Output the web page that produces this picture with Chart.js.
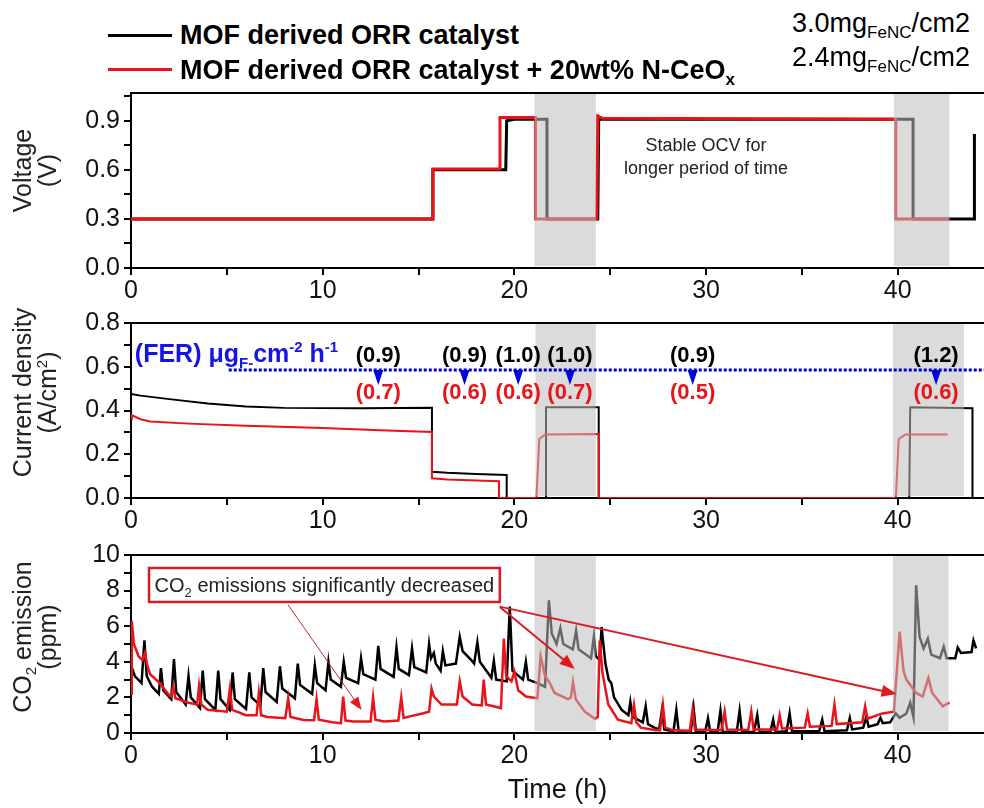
<!DOCTYPE html>
<html>
<head>
<meta charset="utf-8">
<script src="https://cdn.jsdelivr.net/npm/chart.js@4.4.1/dist/chart.umd.min.js"></script>
<style>
  body { margin: 0; width: 984px; height: 808px; background: #fff; position: relative; overflow: hidden;
         font-family: "Liberation Sans", Arial, sans-serif; }
  canvas { position: absolute; left: 0; }
  .leg-line { position: absolute; left: 108px; width: 64px; height: 3px; }
  .leg-text { position: absolute; left: 180px; font-size: 27px; font-weight: bold; line-height: 27px; white-space: nowrap; z-index: 2; }
  .load { position: absolute; left: 792px; font-size: 27px; line-height: 27px; white-space: nowrap; z-index: 2; }
  sub { font-size: 17px; vertical-align: -6px; line-height: 0; }
</style>
</head>
<body>

<!-- legend -->
<div class="leg-line" style="top:34px;background:#000"></div>
<div class="leg-text" style="top:22px">MOF derived ORR catalyst</div>
<div class="leg-line" style="top:68px;background:#e8141a"></div>
<div class="leg-text" style="top:57px">MOF derived ORR catalyst + 20wt% N-CeO<sub>x</sub></div>
<div class="load" style="top:10px">3.0mg<sub>FeNC</sub>/cm2</div>
<div class="load" style="top:44px">2.4mg<sub>FeNC</sub>/cm2</div>

<canvas id="voltage" width="984" height="230" style="top:73px"></canvas>
<canvas id="current" width="984" height="230" style="top:303px"></canvas>
<canvas id="co2" width="984" height="273" style="top:535px"></canvas>

<script>
const BLACK = "#000000";
const RED = "#e8141a";
const BLUE = "#1414e6";
const FONT = '"Liberation Sans", Arial, sans-serif';
const X_MAX = 44.5;

// --- Voltage (V) ---
const voltBlack = [[0,0.3],[15.75,0.3],[15.75,0.6],[19.55,0.6],[19.6,0.9],[20,0.91],[21.7,0.91],[21.7,0.3],[24.35,0.3],[24.4,0.91],[40.8,0.91],[40.8,0.3],[44.0,0.3],[44.0,0.82]];
const voltRed = [[0,0.3],[15.75,0.3],[15.75,0.605],[19.2,0.605],[19.25,0.92],[21.1,0.92],[21.1,0.3],[24.3,0.3],[24.35,0.93],[24.6,0.915],[39.9,0.91],[39.9,0.3],[42.7,0.3]];

// --- Current density (A/cm2) ---
const curBlack = [[0,0.476],[0.5,0.468],[2,0.452],[4,0.432],[6,0.418],[8,0.412],[12,0.41],[15.7,0.413],[15.7,0.12],[16.5,0.115],[18,0.11],[19.6,0.105],[19.6,0],[21.6,0],[21.65,0.415],[24.4,0.415],[24.4,0],[40.6,0],[40.65,0.415],[43.9,0.41],[43.9,0]];
const curRed = [[0,0.36],[0.05,0.378],[0.5,0.36],[1,0.35],[3,0.34],[6,0.33],[10,0.32],[13,0.31],[15.7,0.302],[15.7,0.09],[16.5,0.085],[19.2,0.077],[19.2,0],[21.15,0],[21.3,0.27],[21.6,0.29],[24.4,0.293],[24.4,0],[39.9,0],[40.05,0.27],[40.4,0.29],[42.6,0.29]];

// --- CO2 emission (ppm) ---
const co2Black = [[0,3.8],[0.2,3.2],[0.55,2.8],[0.7,5.2],[0.82,3.2],[1.1,2.6],[1.45,2.2],[1.56,3.65],[1.68,2.4],[2.1,1.9],[2.24,4.15],[2.36,2.3],[2.85,1.6],[3.0,3.2],[3.12,2.0],[3.6,1.4],[3.74,3.5],[3.86,1.9],[4.4,1.3],[4.55,3.5],[4.67,1.9],[5.15,1.3],[5.3,3.4],[5.42,1.9],[6.0,1.35],[6.17,3.4],[6.29,2.0],[6.75,1.55],[6.9,3.65],[7.02,2.3],[7.6,1.75],[7.77,3.75],[7.89,2.5],[8.55,1.95],[8.7,3.9],[8.82,2.7],[9.45,2.2],[9.59,3.8],[9.71,2.8],[10.15,2.4],[10.3,4.0],[10.42,3.0],[10.95,2.6],[11.1,4.0],[11.22,3.1],[11.85,2.8],[12.0,4.2],[12.12,3.3],[12.75,3.0],[12.9,4.9],[13.02,3.6],[13.7,3.15],[13.85,4.8],[13.97,3.6],[14.5,3.25],[14.66,4.75],[14.78,3.7],[15.4,3.4],[15.55,5.0],[15.65,4.2],[15.8,4.5],[15.9,3.9],[16.15,3.5],[16.27,4.6],[16.4,3.8],[16.95,3.9],[17.15,5.4],[17.3,4.6],[17.75,4.1],[17.9,3.9],[18.07,5.1],[18.2,4.0],[18.8,3.1],[18.93,4.05],[19.05,3.0],[19.6,2.9],[19.76,7.1],[19.9,3.5],[20.45,3.0],[20.6,4.0],[20.72,3.0],[21.2,2.8],[21.6,2.6],[21.8,7.45],[21.95,5.6],[22.2,5.0],[22.4,5.9],[22.55,5.0],[23.05,4.7],[23.22,5.75],[23.35,4.7],[24.0,4.2],[24.15,5.45],[24.25,4.3],[24.45,4.1],[24.55,5.95],[24.75,3.9],[24.92,3.0],[25.06,2.8],[25.2,2.0],[25.6,1.3],[25.95,1.0],[26.05,1.75],[26.17,0.9],[26.7,0.6],[26.85,1.5],[26.97,0.5],[27.3,0.3],[27.55,0.2],[27.7,1.3],[27.82,0.2],[28.3,0.1],[28.45,1.3],[28.57,0.1],[29.2,0.05],[29.35,1.4],[29.47,0.1],[29.95,0.05],[30.1,0.83],[30.22,0.05],[30.6,0.05],[30.75,1.25],[30.87,0.05],[31.6,0.05],[31.75,1.25],[31.87,0.05],[32.5,0.05],[32.67,1.0],[32.79,0.05],[33.35,0.05],[33.5,0.75],[33.62,0.05],[34.2,0.1],[34.36,1.1],[34.48,0.1],[35.9,0.1],[36.06,0.75],[36.18,0.1],[37.35,0.15],[37.5,0.85],[37.62,0.2],[38.2,0.3],[38.36,0.9],[38.48,0.35],[38.95,0.5],[39.1,0.85],[39.22,0.55],[39.6,0.6],[39.9,1.1],[40.1,0.85],[40.45,1.1],[40.65,1.7],[40.82,0.9],[40.96,8.3],[41.14,5.4],[41.35,4.75],[41.57,5.3],[41.75,4.4],[42.2,4.2],[42.4,4.85],[42.55,4.2],[43.0,4.2],[43.13,4.8],[43.3,4.5],[43.85,4.55],[43.95,5.2],[44.09,4.75]];
const co2Red = [[0,2.2],[0.04,6.3],[0.15,5.0],[0.4,4.3],[0.6,4.1],[0.73,4.5],[0.85,3.8],[1.0,3.3],[1.5,2.8],[2.0,2.1],[2.1,2.05],[2.2,2.6],[2.32,1.95],[3.0,1.7],[3.45,1.6],[3.55,2.65],[3.67,1.6],[4.0,1.3],[5.0,1.2],[5.16,2.5],[5.28,1.3],[6.0,1.0],[6.55,1.0],[6.67,2.25],[6.79,1.0],[7.1,0.9],[8.05,0.83],[8.2,1.95],[8.32,0.9],[9.0,0.73],[9.55,0.72],[9.68,1.9],[9.8,0.75],[10.5,0.6],[10.95,0.55],[11.07,2.05],[11.19,0.7],[11.6,0.65],[12.5,0.65],[12.63,2.0],[12.75,0.75],[13.2,0.65],[13.95,0.7],[14.1,2.0],[14.22,0.85],[14.6,0.95],[15.2,1.1],[15.55,1.2],[15.68,2.5],[15.8,2.05],[16.2,1.6],[17.0,1.6],[17.15,2.9],[17.3,2.05],[17.8,1.6],[18.3,1.55],[18.4,3.0],[18.52,1.6],[19.3,1.4],[19.45,5.3],[19.57,3.2],[19.85,2.9],[20.0,3.45],[20.2,2.4],[20.6,2.05],[21.2,1.95],[21.37,4.3],[21.6,3.2],[21.85,2.8],[22.1,2.25],[22.8,1.9],[22.95,2.0],[23.06,2.85],[23.2,1.9],[23.67,1.2],[24.2,0.8],[24.35,0.9],[24.45,5.2],[24.6,3.35],[24.9,1.6],[25.4,0.75],[26.1,0.55],[26.24,1.57],[26.36,0.6],[26.6,0.3],[27.3,0.17],[27.6,0.15],[27.75,1.57],[27.87,0.3],[28.3,0.15],[29.15,0.12],[29.3,1.33],[29.42,0.2],[30.8,0.15],[30.97,1.2],[31.09,0.2],[32.2,0.17],[32.36,1.2],[32.48,0.2],[33.7,0.2],[33.84,1.0],[33.96,0.25],[35.15,0.3],[35.3,1.1],[35.42,0.35],[36.55,0.4],[36.7,1.6],[36.82,0.5],[38.15,0.6],[38.3,1.5],[38.42,0.8],[39.2,1.1],[39.8,1.2],[40.1,5.7],[40.3,3.5],[40.45,3.0],[40.96,2.25],[41.3,2.05],[41.6,3.1],[41.8,2.25],[42.35,1.5],[42.5,1.6],[42.7,1.7]];

// shaded (highlighted) time windows, hours
const shadeVoltage = [[21.05, 24.25], [39.8, 42.7]];
const shadeCurrent = [[21.1, 24.25], [39.75, 43.45]];
const shadeCo2 = [[21.05, 24.25], [39.75, 42.65]];

// Fe emission rate (FER) markers
const ferX = [12.9, 17.4, 20.2, 22.9, 29.3, 42.0];
const ferBlack = ["(0.9)", "(0.9)", "(1.0)", "(1.0)", "(0.9)", "(1.2)"];
const ferRed = ["(0.7)", "(0.6)", "(0.6)", "(0.7)", "(0.5)", "(0.6)"];
const ferLine = { from: 5.1, y: 0.585 };

// CO2 callout box and arrows (data coordinates)
const co2Box = { x0: 0.94, x1: 19.24, y0: 7.36, y1: 9.27 };
const co2Arrows = [
  { from: [8.2, 7.19], to: [12.03, 1.29], width: 1 },
  { from: [19.24, 7.08], to: [23.15, 3.6], width: 2 },
  { from: [19.24, 7.1], to: [39.94, 2.19], width: 2 }
];

// draw text with sub/superscripts: segs = [text, size, bold, dy]
function drawRich(ctx, segs, x, y, align) {
  const f = s => (s[2] ? "bold " : "") + s[1] + "px " + FONT;
  let w = 0;
  segs.forEach(s => { ctx.font = f(s); w += ctx.measureText(s[0]).width; });
  let cx = align === "center" ? x - w / 2 : x;
  ctx.textAlign = "left";
  segs.forEach(s => {
    ctx.font = f(s);
    ctx.fillText(s[0], cx, y + (s[3] || 0));
    cx += ctx.measureText(s[0]).width;
  });
}

function makeDecor(shades, titles, titleShift, extra) {
  return {
    id: "decor",
    afterDatasetsDraw(chart) {
      const { ctx, chartArea: a, scales } = chart;
      ctx.save();
      // translucent gray windows drawn over the traces
      ctx.fillStyle = "rgba(190,190,190,0.55)";
      shades.forEach(([s0, s1]) => {
        const p0 = scales.x.getPixelForValue(s0);
        const p1 = scales.x.getPixelForValue(s1);
        ctx.fillRect(p0, a.top + 1, p1 - p0, a.bottom - a.top - 3);
      });
      // top frame line
      ctx.strokeStyle = "#000";
      ctx.lineWidth = 2;
      ctx.beginPath();
      ctx.moveTo(a.left, a.top);
      ctx.lineTo(chart.width, a.top);
      ctx.stroke();
      if (extra) extra(chart, ctx, scales);
      ctx.restore();
    },
    afterDraw(chart) {
      const { ctx, chartArea: a } = chart;
      ctx.save();
      ctx.fillStyle = "#222";
      ctx.textBaseline = "alphabetic";
      const cy = (a.top + a.bottom) / 2 + titleShift;
      [31, 56].forEach((bx, i) => {
        ctx.save();
        ctx.translate(bx, cy);
        ctx.rotate(-Math.PI / 2);
        drawRich(ctx, titles[i], 0, 0, "center");
        ctx.restore();
      });
      ctx.restore();
    }
  };
}

function xAxis(height) {
  return {
    type: "linear", min: 0, max: X_MAX,
    border: { color: "#000", width: 2 },
    grid: { drawOnChartArea: false, drawTicks: true, tickLength: 7, color: "#000", lineWidth: 2 },
    ticks: {
      stepSize: 5, includeBounds: false, autoSkip: false, maxRotation: 0, padding: 1,
      color: "#111", font: { family: FONT, size: 25 },
      callback: v => (Math.abs(v % 10) < 1e-6 ? String(v) : "")
    },
    afterFit: s => { s.height = height; }
  };
}

function yAxis(max, step, labelStep, digits) {
  return {
    min: 0, max: max,
    border: { color: "#000", width: 2 },
    grid: { drawOnChartArea: false, drawTicks: true, tickLength: 7, color: "#000", lineWidth: 2 },
    ticks: {
      stepSize: step, includeBounds: false, autoSkip: false, padding: 4,
      color: "#111", font: { family: FONT, size: 25 },
      callback: v => {
        const r = v / labelStep;
        return Math.abs(r - Math.round(r)) < 1e-6 ? v.toFixed(digits) : "";
      }
    },
    afterFit: s => { s.width = 131; }
  };
}

function makePanel(id, series, y, xHeight, decor) {
  return new Chart(document.getElementById(id), {
    type: "line",
    data: {
      datasets: series.map(s => ({
        data: s.data, borderColor: s.color, borderWidth: s.width, order: s.order,
        pointRadius: 0, tension: 0, fill: false
      }))
    },
    options: {
      responsive: false, animation: false, events: [],
      layout: { padding: { top: 20, left: 0, right: 0, bottom: 0 } },
      plugins: { legend: { display: false }, tooltip: { enabled: false } },
      scales: { x: xAxis(xHeight), y: y }
    },
    plugins: [decor]
  });
}

// panel 1: voltage
makePanel("voltage",
  [{ data: voltBlack, color: BLACK, width: 3, order: 2 }, { data: voltRed, color: RED, width: 3, order: 1 }],
  yAxis(1.07, 0.15, 0.3, 1), 35,
  makeDecor(shadeVoltage, [[["Voltage", 25]], [["(V)", 25]]], -10, (chart, ctx, s) => {
    ctx.fillStyle = "#222";
    ctx.textAlign = "center";
    ctx.textBaseline = "middle";
    ctx.font = "18px " + FONT;
    ctx.fillText("Stable OCV for", s.x.getPixelForValue(30), s.y.getPixelForValue(0.748));
    ctx.fillText("longer period of time", s.x.getPixelForValue(30), s.y.getPixelForValue(0.608));
  }));

// panel 2: current density + FER markers
makePanel("current",
  [{ data: curBlack, color: BLACK, width: 2, order: 2 }, { data: curRed, color: RED, width: 2, order: 1 }],
  yAxis(0.8, 0.1, 0.2, 1), 35,
  makeDecor(shadeCurrent,
    [[["Current density", 25]], [["(A/cm", 25], ["2", 15, false, -9], [")", 25]]], -18,
    (chart, ctx, s) => {
      const ly = s.y.getPixelForValue(ferLine.y);
      ctx.strokeStyle = "#0000cc";
      ctx.lineWidth = 3;
      ctx.setLineDash([3, 2]);
      ctx.beginPath();
      ctx.moveTo(s.x.getPixelForValue(ferLine.from), ly);
      ctx.lineTo(chart.width, ly);
      ctx.stroke();
      ctx.setLineDash([]);
      ctx.textAlign = "center";
      ctx.textBaseline = "middle";
      ferX.forEach((fx, i) => {
        const px = s.x.getPixelForValue(fx);
        ctx.fillStyle = "#0000e0";
        ctx.beginPath();
        ctx.moveTo(px - 5, ly);
        ctx.lineTo(px + 5, ly);
        ctx.lineTo(px, ly + 15);
        ctx.closePath();
        ctx.fill();
        ctx.font = "bold 22px " + FONT;
        ctx.fillStyle = "#000";
        ctx.fillText(ferBlack[i], px, s.y.getPixelForValue(0.65));
        ctx.fillStyle = RED;
        ctx.fillText(ferRed[i], px, s.y.getPixelForValue(0.48));
      });
      ctx.fillStyle = BLUE;
      ctx.textBaseline = "alphabetic";
      drawRich(ctx, [["(FER) \u03bcg", 25, true], ["F-", 15, true, 6], ["cm", 25, true], ["-2", 15, true, -10],
                     [" h", 25, true], ["-1", 15, true, -10]],
        s.x.getPixelForValue(0.2), s.y.getPixelForValue(0.62), "left");
    }));

// panel 3: CO2 emission
makePanel("co2",
  [{ data: co2Black, color: BLACK, width: 2.5, order: 2 }, { data: co2Red, color: RED, width: 2.5, order: 1 }],
  yAxis(10, 1, 2, 0), 75,
  makeDecor(shadeCo2,
    [[["CO", 25], ["2", 15, false, 5], [" emission", 25]], [["(ppm)", 25]]], -7,
    (chart, ctx, s) => {
      const bx0 = s.x.getPixelForValue(co2Box.x0), bx1 = s.x.getPixelForValue(co2Box.x1);
      const by0 = s.y.getPixelForValue(co2Box.y1), by1 = s.y.getPixelForValue(co2Box.y0);
      ctx.fillStyle = "#fff";
      ctx.fillRect(bx0, by0, bx1 - bx0, by1 - by0);
      ctx.strokeStyle = "#d81c22";
      ctx.lineWidth = 2.5;
      ctx.strokeRect(bx0, by0, bx1 - bx0, by1 - by0);
      ctx.fillStyle = "#222";
      ctx.textBaseline = "alphabetic";
      drawRich(ctx, [["CO", 20], ["2", 13, false, 5], [" emissions significantly decreased", 20]],
        (bx0 + bx1) / 2, (by0 + by1) / 2 + 7, "center");
      co2Arrows.forEach(ar => {
        const x0 = s.x.getPixelForValue(ar.from[0]), y0 = s.y.getPixelForValue(ar.from[1]);
        const x1 = s.x.getPixelForValue(ar.to[0]), y1 = s.y.getPixelForValue(ar.to[1]);
        const ang = Math.atan2(y1 - y0, x1 - x0);
        const hl = ar.width > 1 ? 15 : 13, hw = ar.width > 1 ? 6 : 5;
        ctx.strokeStyle = ar.width > 1 ? "#d81c22" : "#c42a2a";
        ctx.fillStyle = "#e01a1a";
        ctx.lineWidth = ar.width;
        ctx.beginPath();
        ctx.moveTo(x0, y0);
        ctx.lineTo(x1 - Math.cos(ang) * hl * 0.8, y1 - Math.sin(ang) * hl * 0.8);
        ctx.stroke();
        ctx.beginPath();
        ctx.moveTo(x1, y1);
        ctx.lineTo(x1 - Math.cos(ang) * hl + Math.sin(ang) * hw, y1 - Math.sin(ang) * hl - Math.cos(ang) * hw);
        ctx.lineTo(x1 - Math.cos(ang) * hl - Math.sin(ang) * hw, y1 - Math.sin(ang) * hl + Math.cos(ang) * hw);
        ctx.closePath();
        ctx.fill();
      });
      ctx.fillStyle = "#111";
      ctx.textAlign = "center";
      ctx.font = "27px " + FONT;
      ctx.fillText("Time (h)", (chart.chartArea.left + chart.width) / 2, 263);
    }));
</script>
</body>
</html>
